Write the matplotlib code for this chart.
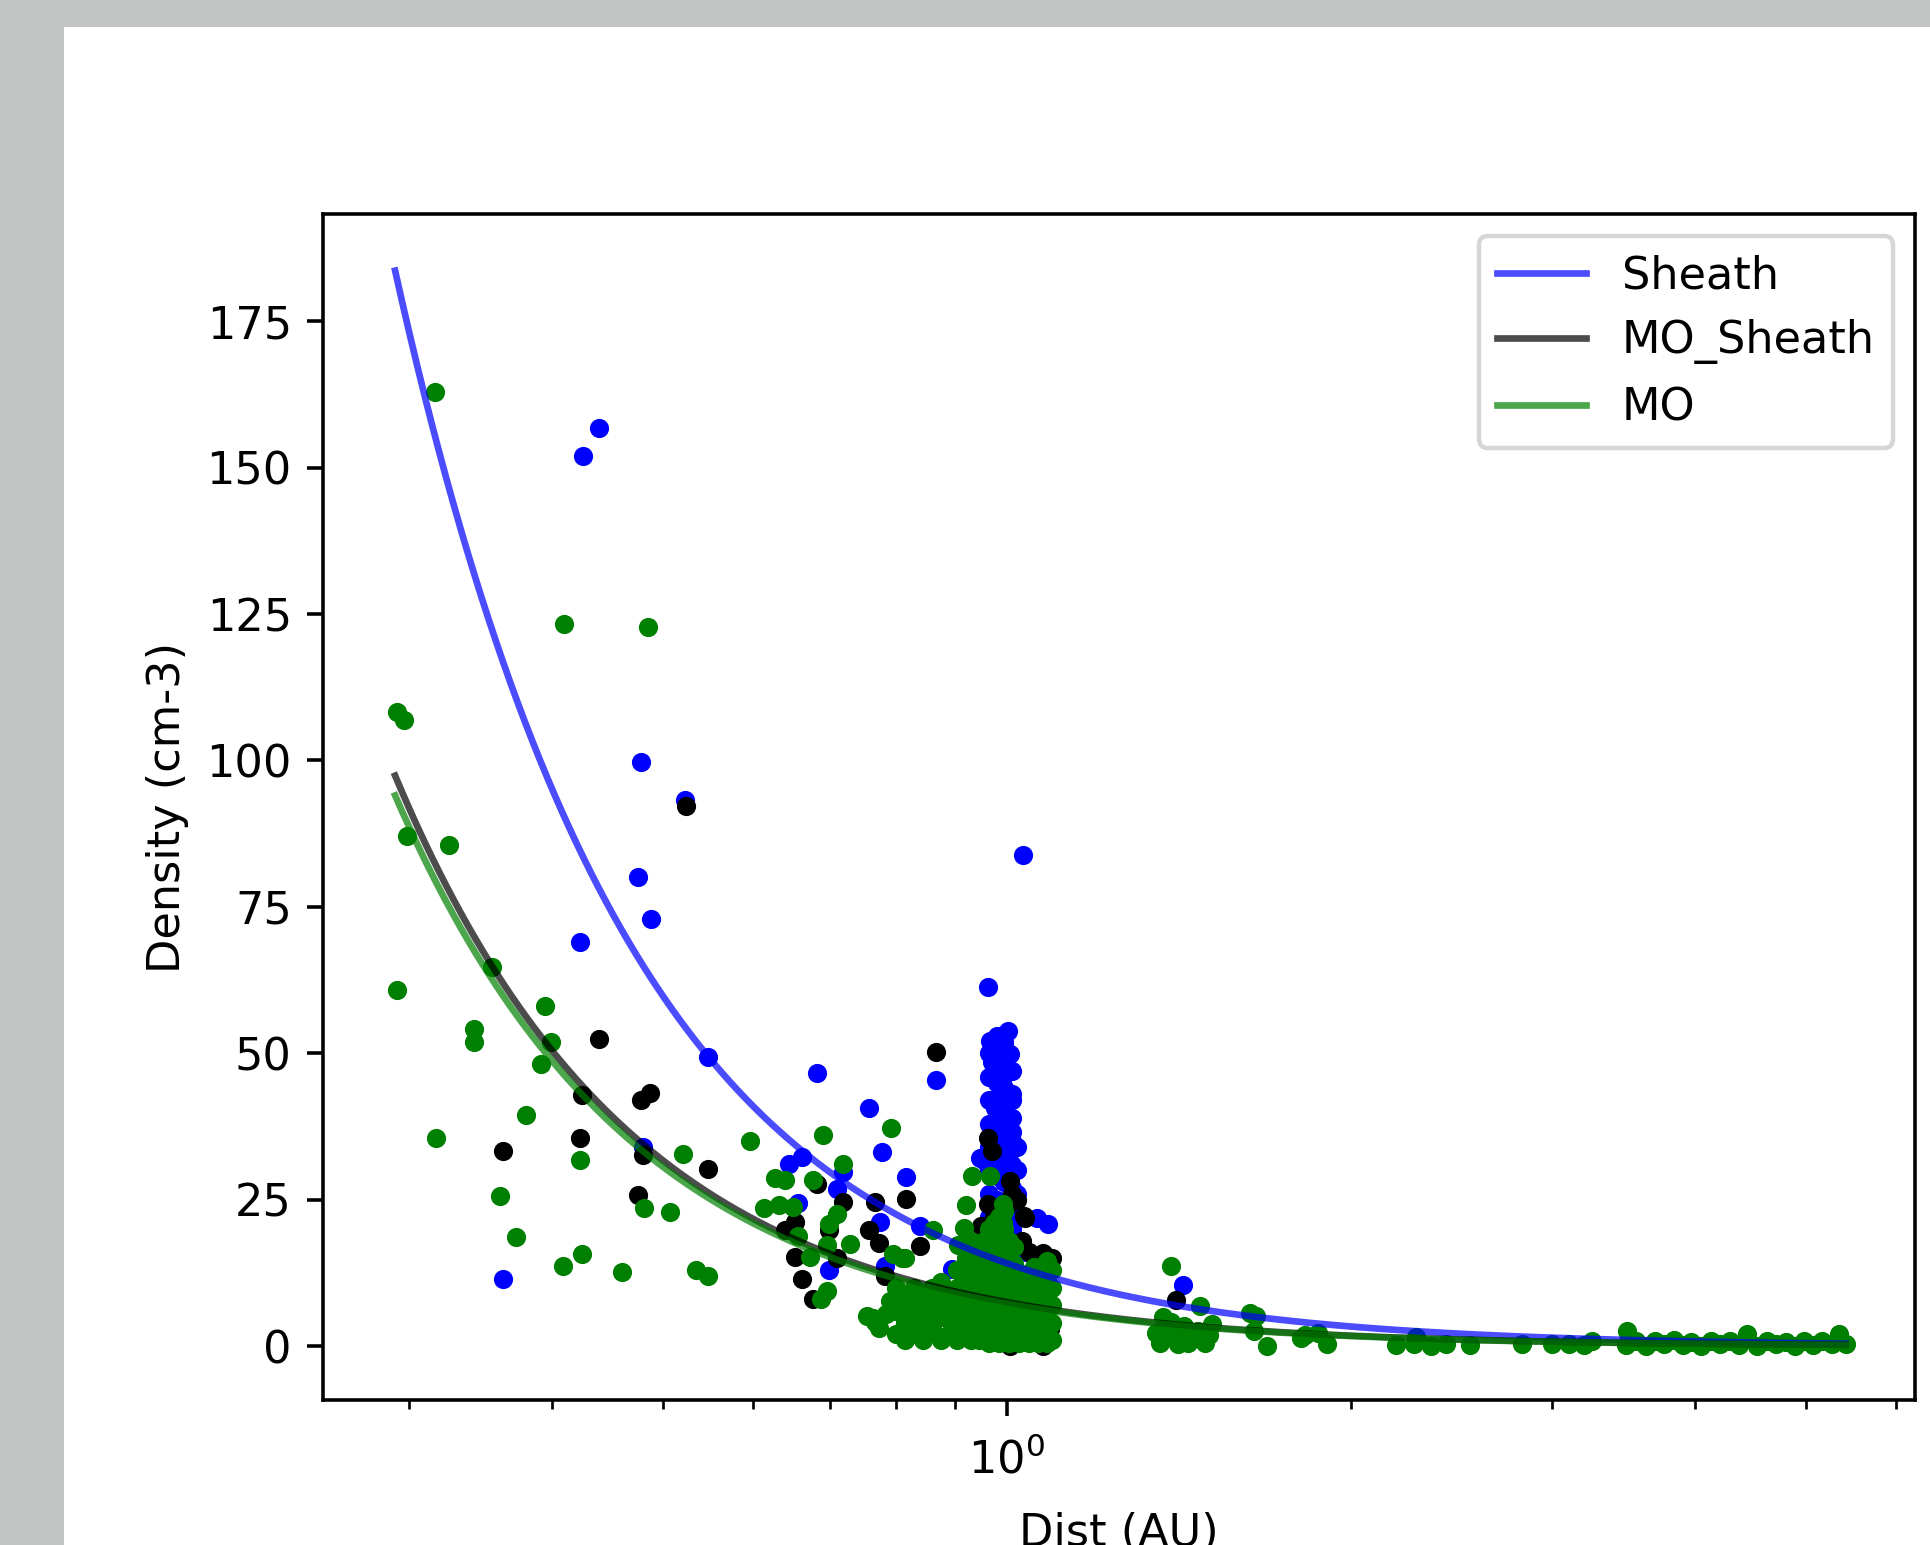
import numpy as np
import matplotlib
matplotlib.use("Agg")
import matplotlib.pyplot as plt
from matplotlib.patches import Rectangle

# ---------------- data ----------------
# Sheath (blue)
sheath_r = [0.4398, 0.4256, 0.4783, 0.523, 0.4752, 0.4882, 0.4230, 0.548, 0.4808,
            0.6823, 0.7572, 0.7772, 0.7183, 0.6619, 0.6443, 0.8167, 0.7096, 0.657,
            0.775, 0.6987, 0.7814, 0.3622, 1.032, 0.9623, 0.8666, 0.839, 0.895,
            1.062, 1.087, 1.426,
            1.0026, 0.966, 1.006, 0.986, 0.9926, 0.9826, 0.996, 0.976, 1.006, 0.9826,
            0.9567, 1.009, 0.99, 0.947, 1.0, 0.99, 1.0, 0.975, 1.005, 0.99, 1.01,
            1.03, 1.035, 1.03, 1.0, 0.97, 1.01, 0.97, 0.995, 1.01,
            0.965, 0.965, 0.965, 0.965, 0.965, 0.965, 0.965, 0.965,
            0.98, 0.98, 0.98, 0.98, 0.98, 0.98, 0.98, 0.98, 0.98,
            0.995, 0.995, 0.995, 0.995, 0.995, 0.995, 0.995, 0.995, 0.995,
            1.01, 1.01, 1.01, 1.01, 1.01, 1.01, 1.01, 1.01,
            1.02, 1.02, 1.02, 1.02, 1.02, 1.04, 1.04, 1.04]
sheath_n = [156.8, 151.9, 99.8, 93.3, 80.1, 72.9, 69.0, 49.3, 34.0,
            46.6, 40.6, 33.1, 29.8, 32.3, 31.1, 28.85, 26.75, 24.5,
            21.2, 13.05, 13.7, 11.4, 83.9, 61.3, 45.4, 20.5, 13.2,
            21.85, 20.9, 10.4,
            53.8, 52.1, 49.85, 50.4, 45.9, 42.4, 39.6, 40.7, 33.3, 37.9,
            31.6, 31.1, 35.6, 32.2, 47.5, 44.0, 28.0, 29.5, 25.0, 22.0, 20.0,
            17.0, 12.0, 8.0, 15.0, 18.0, 36.5, 48.5, 51.5, 42.0,
            22, 26, 30, 34, 38, 42, 46, 50,
            21, 25, 29, 33, 37, 41, 45, 49, 53,
            20, 24, 28, 32, 36, 40, 44, 48, 52,
            19, 23, 27, 31, 35, 39, 43, 47,
            18, 22, 26, 30, 34, 6, 11, 16]

# MO_Sheath (black)
mosh_r = [0.524, 0.4395, 0.4252, 0.4783, 0.4871, 0.3622, 0.4230, 0.4808, 0.548,
          0.6823, 0.7183, 0.7663, 0.8167, 0.4752, 0.6518, 0.640, 0.6987, 0.7577,
          0.7724, 0.6518, 0.7096, 0.7814, 0.6619, 0.6772, 0.8666, 0.839, 0.889,
          1.034, 1.075, 1.095, 0.963, 0.970, 1.006, 0.963, 0.9567, 1.037, 1.01,
          0.950, 1.075, 1.006, 1.407, 0.97, 1.0, 1.05, 0.99, 1.02, 0.96, 1.09,
          0.975, 0.99, 1.0, 1.02, 0.96, 1.0, 1.03, 1.045]
mosh_n = [92.2, 52.5, 42.8, 42.1, 43.3, 33.4, 35.6, 32.7, 30.2,
          27.75, 24.6, 24.6, 25.1, 25.8, 21.2, 19.9, 19.9, 19.9,
          17.6, 15.3, 15.0, 12.05, 11.5, 8.1, 50.3, 17.15, 4.6,
          22.2, 15.95, 15.0, 35.6, 33.3, 28.2, 24.2, 20.2, 21.9, 26.0,
          20.5, 0.0, 0.0, 7.8, 10.0, 5.0, 8.0, 15.0, 12.0, 3.0, 3.0,
          22.0, 19.0, 24.0, 25.0, 17.0, 17.0, 18.0, 16.0]

# MO (green)
mo_r = [0.316, 0.4099, 0.4849, 0.2924, 0.2965, 0.2987, 0.3247, 0.3546, 0.2924,
        0.3944, 0.3416, 0.3416, 0.3993, 0.3913, 0.3791, 0.3163, 0.4230, 0.5206,
        0.5961, 0.7917, 0.6909, 0.7183, 0.627, 0.640, 0.677, 0.3599, 0.481,
        0.5070, 0.6129, 0.632, 0.6494, 0.6987, 0.7096, 0.729, 0.696, 0.672,
        0.815, 0.656, 0.696, 0.688, 0.7663, 0.755, 0.8245, 0.808, 0.3716,
        0.4092, 0.4252, 0.4602, 0.5343, 0.548, 0.764, 0.772, 0.79, 0.795,
        # around 0.8 - 0.93
        0.9315, 0.921, 0.918, 0.9068, 0.8611, 0.8288, 0.8965, 0.7834, 0.862,
        0.81, 0.815, 0.966, 0.915, 0.904, 0.866, 0.9926, 0.992,
        0.80, 0.80, 0.80, 0.815, 0.815, 0.815, 0.83, 0.83, 0.83,
        0.845, 0.845, 0.845, 0.86, 0.86, 0.86, 0.875, 0.875, 0.875, 0.875,
        0.89, 0.89, 0.89, 0.905, 0.905, 0.905, 0.905, 0.905,
        0.92, 0.92, 0.92, 0.92, 0.92, 0.93, 0.93, 0.93, 0.93, 0.93, 0.93,
        # dense clump near 1 AU
        0.945, 0.945, 0.945, 0.945, 0.945, 0.945,
        0.955, 0.955, 0.955, 0.955, 0.955, 0.955,
        0.965, 0.965, 0.965, 0.965, 0.965, 0.965, 0.965,
        0.975, 0.975, 0.975, 0.975, 0.975, 0.975, 0.975,
        0.985, 0.985, 0.985, 0.985, 0.985, 0.985, 0.985, 0.985,
        0.995, 0.995, 0.995, 0.995, 0.995, 0.995, 0.995, 0.995,
        1.005, 1.005, 1.005, 1.005, 1.005, 1.005, 1.005,
        1.015, 1.015, 1.015, 1.015, 1.015, 1.015,
        1.025, 1.025, 1.025, 1.025, 1.025,
        1.035, 1.035, 1.035, 1.035,
        1.045, 1.045, 1.045, 1.045, 1.045,
        1.055, 1.055, 1.055, 1.055, 1.055,
        1.065, 1.065, 1.065, 1.065, 1.065,
        1.075, 1.075, 1.075, 1.075, 1.075,
        1.085, 1.085, 1.085, 1.085, 1.085, 1.085,
        1.095, 1.095, 1.095, 1.095, 1.095,
        # tail
        1.391, 1.474, 1.349, 1.41, 1.502, 1.391, 1.457, 1.37, 1.51, 1.632, 1.65,
        1.36, 1.38, 1.40, 1.43, 1.44, 1.47, 1.49,
        1.645, 1.687, 1.81, 1.823, 1.905, 1.87, 2.19, 2.27, 2.35, 2.42, 2.28,
        2.54, 2.82, 3.0, 3.1, 3.2, 3.25, 3.49,
        3.48, 3.55, 3.62, 3.69, 3.76, 3.83, 3.90, 3.97, 4.05, 4.13, 4.21, 4.29,
        4.37, 4.44, 4.53, 4.62, 4.71, 4.80, 4.89, 4.98, 5.07, 5.17, 5.27, 5.35,
        5.417]
mo_n = [162.9, 123.3, 122.8, 108.2, 106.9, 87.1, 85.5, 64.7, 60.8,
        58.0, 54.2, 51.9, 51.9, 48.15, 39.4, 35.6, 31.7, 32.85,
        35.1, 37.2, 36.1, 31.1, 28.7, 28.4, 28.4, 25.65, 23.5,
        22.95, 23.5, 24.1, 23.8, 20.85, 22.5, 17.4, 17.3, 15.3,
        15.0, 18.8, 9.4, 8.1, 4.2, 5.2, 3.55, 8.8, 18.6,
        13.7, 15.8, 12.6, 13.0, 12.05, 4.85, 3.1, 7.7, 15.7,
        29.05, 24.15, 20.2, 17.3, 19.9, 3.55, 2.6, 5.5, 8.8,
        15.1, 3.7, 29.1, 11.7, 2.6, 7.1, 24.2, 21.0,
        2, 6, 10, 1, 4, 8, 2, 6, 10,
        1, 4, 8, 3, 6, 10, 1, 5, 8, 11,
        2, 6, 9, 1, 4, 7, 10, 13,
        2, 5, 8, 11, 15, 1, 4, 7, 10, 13, 18,
        1, 4, 7, 10, 13, 16,
        2, 6, 9, 12, 15, 18,
        0.5, 3, 7, 10, 13, 17, 20,
        1.5, 5, 8, 11, 14, 18, 21,
        0.5, 3.5, 6, 9, 12, 15, 19, 22,
        1, 4, 7, 10, 13, 16, 20, 23,
        0.5, 3, 6, 9, 12, 15, 18,
        1.5, 5, 8, 11, 14, 17,
        0.5, 3.5, 6.5, 9.5, 12.5,
        1, 4, 7, 10,
        0.5, 3, 6, 9, 12,
        1.5, 4.5, 7.5, 10.5, 13.5,
        0.5, 3, 6, 9, 12,
        1.5, 4.5, 7.5, 10.5, 13.5,
        0.5, 3, 6, 9, 12, 14.5,
        1, 4, 7, 10, 13,
        13.65, 6.8, 2.2, 0.3, 1.9, 4.2, 1.6, 4.9, 3.7, 5.7, 5.1,
        0.5, 3.0, 1.5, 3.5, 0.5, 2.5, 0.5,
        2.6, 0.0, 1.4, 1.9, 0.3, 2.3, 0.2, 0.3, 0.1, 0.4, 1.6,
        0.2, 0.3, 0.4, 0.3, 0.2, 0.8, 2.6,
        0.2, 0.9, 0.1, 0.8, 0.3, 1.0, 0.2, 0.7, 0.1, 0.9, 0.3, 0.8,
        0.2, 2.0, 0.1, 0.9, 0.3, 0.7, 0.1, 0.9, 0.2, 0.8, 0.3, 2.0,
        0.4]

# power-law fits n = a * r**b
fit_labels = ["Sheath", "MO_Sheath", "MO"]
fit_a = [14.14, 7.50, 7.24]
fit_b = [-2.08, -2.08, -2.08]

# ---------------- styling ----------------
S = 3.21
plt.rcParams.update({
    "font.family": ["DejaVu Sans"],
    "font.size": 10 * S,
    "axes.linewidth": 0.8 * S,
    "lines.linewidth": 1.5 * S,
    "patch.linewidth": 1.0 * S,
    "xtick.major.size": 3.5 * S, "xtick.major.width": 0.8 * S,
    "xtick.minor.size": 2.0 * S, "xtick.minor.width": 0.6 * S,
    "ytick.major.size": 3.5 * S, "ytick.major.width": 0.8 * S,
    "ytick.minor.size": 2.0 * S, "ytick.minor.width": 0.6 * S,
    "xtick.major.pad": 3.5 * S + 4.5, "xtick.minor.pad": 3.4 * S + 4.5,
    "ytick.major.pad": 3.5 * S, "ytick.minor.pad": 3.4 * S,
    "axes.labelpad": 4.0 * S,
})

W, H = 1931, 1545
fig = plt.figure(figsize=(W / 100, H / 100), dpi=100, facecolor="#c4c6c5")
fig.add_artist(Rectangle((64 / W, 0), 1, (H - 27) / H, transform=fig.transFigure,
                         facecolor="white", edgecolor="none", zorder=0))
ax = fig.add_axes([323 / W, (H - 1400) / H, (1915 - 323) / W, (1400 - 214) / H])

ms = 6.6 * S
mew = 1.0 * S
ax.plot(sheath_r, sheath_n, ".", color="blue", markersize=ms, markeredgewidth=mew, linestyle="none")
ax.plot(mosh_r, mosh_n, ".", color="black", markersize=ms, markeredgewidth=mew, linestyle="none")
ax.plot(mo_r, mo_n, ".", color="green", markersize=ms, markeredgewidth=mew, linestyle="none")

all_r = np.array(sheath_r + mosh_r + mo_r)
r_grid = np.geomspace(all_r.min() * 0.997, all_r.max(), 400)
for lab, a, b, c in zip(fit_labels, fit_a, fit_b, ["blue", "black", "green"]):
    ax.plot(r_grid, a * r_grid ** b, color=c, alpha=0.7, label=lab)

ax.set_xscale("log")
ax.set_xlim(0.2521, 6.23)
ax.set_ylim(-9.2, 193.3)
ax.set_yticks([0, 25, 50, 75, 100, 125, 150, 175])
ax.set_xlabel("Dist (AU)", labelpad=4.0 * S + 9)
ax.set_ylabel("Density (cm-3)")
ax.legend(loc="upper right")

fig.savefig("out.png", dpi=100, facecolor=fig.get_facecolor())
